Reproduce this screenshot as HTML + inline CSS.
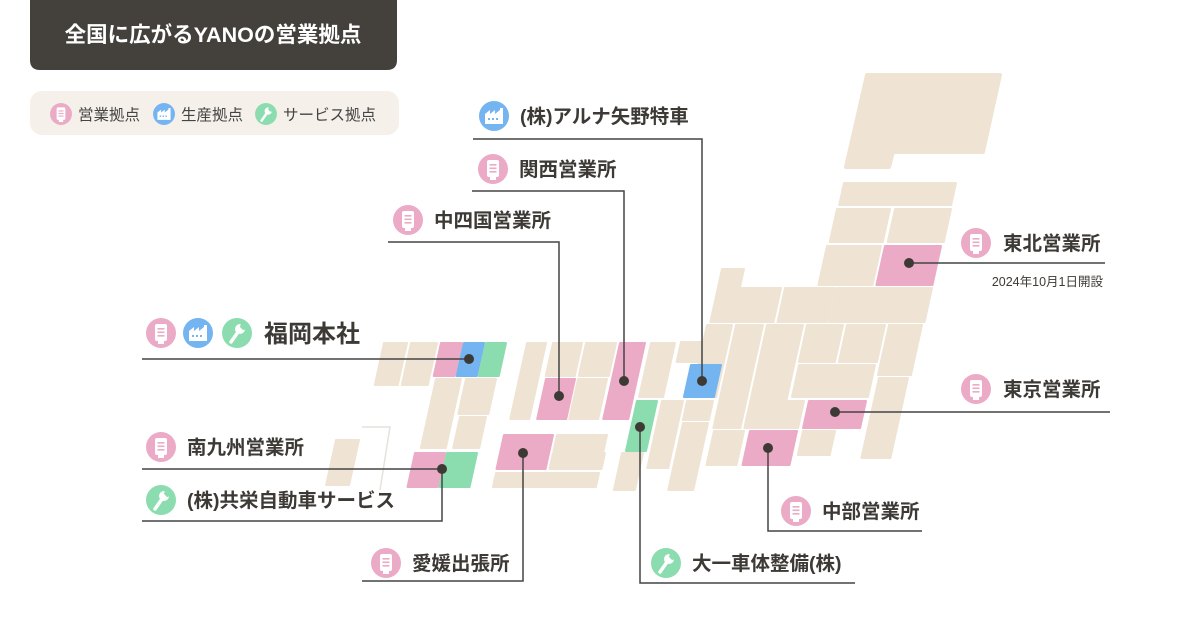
<!DOCTYPE html>
<html><head><meta charset="utf-8"><style>
body{margin:0;background:#fff;width:1200px;height:636px;overflow:hidden;font-family:"Liberation Sans","Noto Sans CJK JP",sans-serif;}
svg{position:absolute;left:0;top:0}
</style></head><body>
<svg id="s" width="1200" height="636" viewBox="0 0 1200 636" xmlns="http://www.w3.org/2000/svg">
<defs>
<g id="doc"><circle r="15" fill="#ebaac5"/><rect x="-6" y="-9" width="12" height="17" rx="2" fill="#fff"/><rect x="-3.5" y="-5" width="7" height="1.6" fill="#ebaac5"/><rect x="-3.5" y="-1.5" width="7" height="1.6" fill="#ebaac5"/><rect x="-3.5" y="2" width="7" height="1.6" fill="#ebaac5"/><rect x="-3" y="8" width="6" height="3" fill="#fff"/></g>
<g id="fac"><circle r="15" fill="#74b4f0"/><path d="M-9 8V-2L-4 -6V-2L1 -6V-2L6 -6V-8H9V8Z" fill="#fff"/><rect x="-6" y="2" width="2" height="2" fill="#74b4f0"/><rect x="-2" y="2" width="2" height="2" fill="#74b4f0"/><rect x="2" y="2" width="2" height="2" fill="#74b4f0"/></g>
<g id="wr"><circle r="15" fill="#8bdcae"/><path d="M-6 9L1 -1" stroke="#fff" stroke-width="3.5" stroke-linecap="round"/><circle cx="3" cy="-4" r="5" fill="#fff"/><path d="M4 -10L10 -4L6 -3L3 -6Z" fill="#8bdcae"/></g>
</defs>
<path d="M30 0H397V60Q397 70 387 70H40Q30 70 30 60Z" fill="#44413c"/>
<text x="213" y="42" fill="#fff" font-size="21.5" font-weight="bold" text-anchor="middle">全国に広がるYANOの営業拠点</text>
<rect x="30" y="91" width="369" height="44" rx="12" fill="#f5f1ea"/>
<g transform="translate(61,114) scale(0.73)"><use href="#doc"/></g>
<text x="78" y="120" font-size="15.5" fill="#444">営業拠点</text>
<g transform="translate(164,114) scale(0.73)"><use href="#fac"/></g>
<text x="181" y="120" font-size="15.5" fill="#444">生産拠点</text>
<g transform="translate(266,114) scale(0.73)"><use href="#wr"/></g>
<text x="283" y="120" font-size="15.5" fill="#444">サービス拠点</text>
<g id="map"></g>
<g stroke="#444" stroke-width="1.5" fill="none">
<polyline points="142,359 469,359"/>
<polyline points="142,469 442,469 442,521 142,521"/>
<polyline points="362,581 523,581 523,453"/>
<polyline points="640,427 640,583 855,583"/>
<polyline points="768,448 768,531 922,531"/>
<polyline points="835,412 1110,412"/>
<polyline points="909,263 1105,263"/>
<polyline points="388,242 559,242 559,396"/>
<polyline points="472,191 624,191 624,381"/>
<polyline points="473,139 702,139 702,381"/>
</g>
<g fill="#3d3a36"><circle cx="469" cy="359" r="5"/><circle cx="442" cy="469" r="5"/><circle cx="523" cy="453" r="5"/><circle cx="640" cy="427" r="5"/><circle cx="768" cy="448" r="5"/><circle cx="835" cy="412" r="5"/><circle cx="909" cy="263" r="5"/><circle cx="559" cy="396" r="5"/><circle cx="624" cy="381" r="5"/><circle cx="702" cy="381" r="5"/></g>
<g font-size="19.5" font-weight="bold" fill="#3d3a36">
<use href="#fac" x="494" y="116"/><text x="520" y="123">(株)アルナ矢野特車</text>
<use href="#doc" x="493" y="169"/><text x="519" y="176">関西営業所</text>
<use href="#doc" x="408" y="220"/><text x="434" y="227">中四国営業所</text>
<use href="#doc" x="976" y="243"/><text x="1003" y="250">東北営業所</text>
<use href="#doc" x="976" y="389"/><text x="1003" y="396">東京営業所</text>
<use href="#doc" x="796" y="511"/><text x="822" y="518">中部営業所</text>
<use href="#wr" x="666" y="563"/><text x="692" y="570">大一車体整備(株)</text>
<use href="#doc" x="386" y="563"/><text x="412" y="570">愛媛出張所</text>
<use href="#wr" x="161" y="500"/><text x="187" y="507">(株)共栄自動車サービス</text>
<use href="#doc" x="161" y="447"/><text x="187" y="454">南九州営業所</text>
<use href="#doc" x="161" y="333"/><use href="#fac" x="198" y="333"/><use href="#wr" x="237" y="333"/>
<text x="264" y="342" font-size="24">福岡本社</text>
</g>
<text x="1103" y="286" font-size="12.5" fill="#3d3a36" text-anchor="end">2024年10月1日開設</text>
</svg>
<script>
var T="#efe4d4",P="#ebaac5",B="#74b4f0",G="#8bdcae",k=0.22;
var tiles=[
[843,957,183,205,T],[836,891,209,242,T],[894,952,209,242,T],[826,882,246,285,T],[884,942,246,285,P],
[721,745,269,322,T],[737,782,288,322,T],[784,836,288,322,T],[836,933,288,322,T],
[706,733,325,397,T],[735,764,325,428,T],[766,804,325,428,T],[806,844,325,362,T],[846,886,325,362,T],[888,923,325,375,T],
[798,876,365,397,T],[770,805,401,428,T],[808,867,401,428,P],[878,909,378,458,T],
[713,745,431,465,T],[749,798,431,465,P],[802,836,431,455,T],
[680,722,342,362,T],[690,722,365,397,B],
[619,646,343,419,P],[650,676,343,397,T],[636,658,401,451,G],[661,684,401,468,T],[686,714,401,420,T],[682,709,423,490,T],[621,644,453,490,T],
[526,547,343,419,T],[552,583,343,376,T],[585,617,343,376,T],[545,576,379,419,P],[577,608,379,419,T],
[503,554,435,469,P],[556,608,435,451,T],[552,606,453,469,T],[495,600,473,487,T],
[383,408,343,385,T],[410,438,343,385,T],[440,463,343,376,P],[463,485,343,376,B],[485,507,343,376,G],
[435,462,379,448,T],[465,497,379,414,T],[459,487,417,448,T],[414,446,453,487,P],[446,478,453,487,G],
[335,360,440,485,T]];
var s='<path d="M867 75H1000L983 152H893L889 167H846Z" fill="'+T+'" stroke="'+T+'" stroke-width="4" stroke-linejoin="round"/>';
s+='<path d="M362 427H390L380 490" fill="none" stroke="#e6e2dc" stroke-width="1.5"/>';
tiles.forEach(function(t){var h=t[3]-t[2],d=k*h;
s+='<path d="M'+(t[0]+1)+' '+t[2]+'H'+(t[1]-1)+'L'+(t[1]-1-d)+' '+t[3]+'H'+(t[0]+1-d)+'Z" fill="'+t[4]+'" stroke="'+t[4]+'" stroke-width="2" stroke-linejoin="round"/>';});
document.getElementById('map').innerHTML=s;
</script>
</body></html>
